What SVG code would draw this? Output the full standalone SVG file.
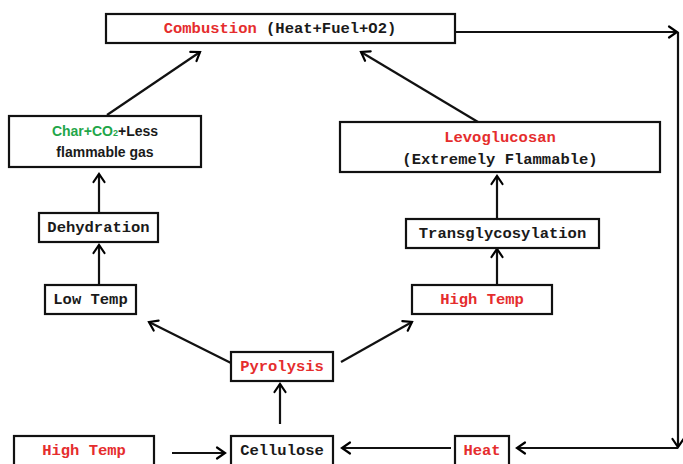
<svg xmlns="http://www.w3.org/2000/svg" width="683" height="464" viewBox="0 0 683 464">
<defs>
<marker id="ah" markerUnits="userSpaceOnUse" markerWidth="14" markerHeight="14" refX="9" refY="6" orient="auto" overflow="visible">
<path d="M1,0.5 L9,6 L1,11.5" fill="none" stroke="#000" stroke-width="2.2" stroke-linecap="round" stroke-linejoin="miter"/>
</marker>
<style>
.box{fill:#fff;stroke:#111;stroke-width:2.2}
.t{font-family:"Liberation Mono","DejaVu Sans Mono",monospace;font-weight:bold;font-size:15.5px;fill:#1a1a1a;text-anchor:middle}
.s{font-family:"Liberation Sans",Arial,sans-serif;font-weight:bold;font-size:14px;fill:#1a1a1a;text-anchor:middle}
.r{fill:#e52d2d}
.g{fill:#1fa64a}
.c{fill:none;stroke:#111;stroke-width:2.2}
</style>
</defs>
<rect width="683" height="464" fill="#fff"/>
<g id="connectors">
<line class="c" x1="107" y1="115" x2="200" y2="52" marker-end="url(#ah)"/>
<line class="c" x1="478" y1="122" x2="361" y2="52" marker-end="url(#ah)"/>
<line class="c" x1="99" y1="213" x2="99" y2="174" marker-end="url(#ah)"/>
<line class="c" x1="99" y1="284" x2="99" y2="245" marker-end="url(#ah)"/>
<line class="c" x1="497" y1="219" x2="497" y2="176" marker-end="url(#ah)"/>
<line class="c" x1="497" y1="285" x2="497" y2="249" marker-end="url(#ah)"/>
<line class="c" x1="231" y1="363" x2="149" y2="322" marker-end="url(#ah)"/>
<line class="c" x1="341" y1="362" x2="412" y2="322" marker-end="url(#ah)"/>
<line class="c" x1="280" y1="424" x2="280" y2="384" marker-end="url(#ah)"/>
<line class="c" x1="172" y1="453" x2="225" y2="453" marker-end="url(#ah)"/>
<line class="c" x1="451" y1="448" x2="342" y2="448" marker-end="url(#ah)"/>
<line class="c" x1="455" y1="32" x2="677" y2="32" stroke-width="1.8" marker-end="url(#ah)"/>
<line class="c" x1="678" y1="32" x2="678" y2="447" stroke-width="1.8" marker-end="url(#ah)"/>
<line class="c" x1="678" y1="448" x2="517" y2="448" marker-end="url(#ah)"/>
</g>
<g id="combustion">
<rect class="box" x="106" y="14" width="349" height="29"/>
<text class="t" x="280" y="33"><tspan class="r">Combustion</tspan> (Heat+Fuel+O2)</text>
</g>
<g id="char">
<rect class="box" x="9" y="116" width="192" height="51"/>
<text class="s" x="105" y="136"><tspan class="g">Char+CO<tspan font-size="9">2</tspan></tspan>+Less</text>
<text class="s" x="105" y="157">flammable gas</text>
</g>
<g id="levoglucosan">
<rect class="box" x="340" y="122" width="320" height="50"/>
<text class="t r" x="500" y="142" font-size="14.5">Levoglucosan</text>
<text class="t" x="500" y="164" font-size="14.5">(Extremely Flammable)</text>
</g>
<g id="dehydration">
<rect class="box" x="39" y="213" width="119" height="29"/>
<text class="t" x="98.5" y="232">Dehydration</text>
</g>
<g id="transglycosylation">
<rect class="box" x="406" y="219" width="193" height="29"/>
<text class="t" x="502.5" y="238">Transglycosylation</text>
</g>
<g id="lowtemp">
<rect class="box" x="45" y="285" width="91" height="29"/>
<text class="t" x="90.5" y="304">Low Temp</text>
</g>
<g id="hightemp-right">
<rect class="box" x="412" y="285" width="140" height="29"/>
<text class="t r" x="482" y="304">High Temp</text>
</g>
<g id="pyrolysis">
<rect class="box" x="231" y="352" width="102" height="29"/>
<text class="t r" x="282" y="371">Pyrolysis</text>
</g>
<g id="hightemp-left">
<rect class="box" x="14" y="436" width="140" height="34"/>
<text class="t r" x="84" y="455">High Temp</text>
</g>
<g id="cellulose">
<rect class="box" x="231" y="436" width="102" height="34"/>
<text class="t" x="282" y="455">Cellulose</text>
</g>
<g id="heat">
<rect class="box" x="455" y="436" width="54" height="34"/>
<text class="t r" x="482" y="455">Heat</text>
</g>
</svg>
